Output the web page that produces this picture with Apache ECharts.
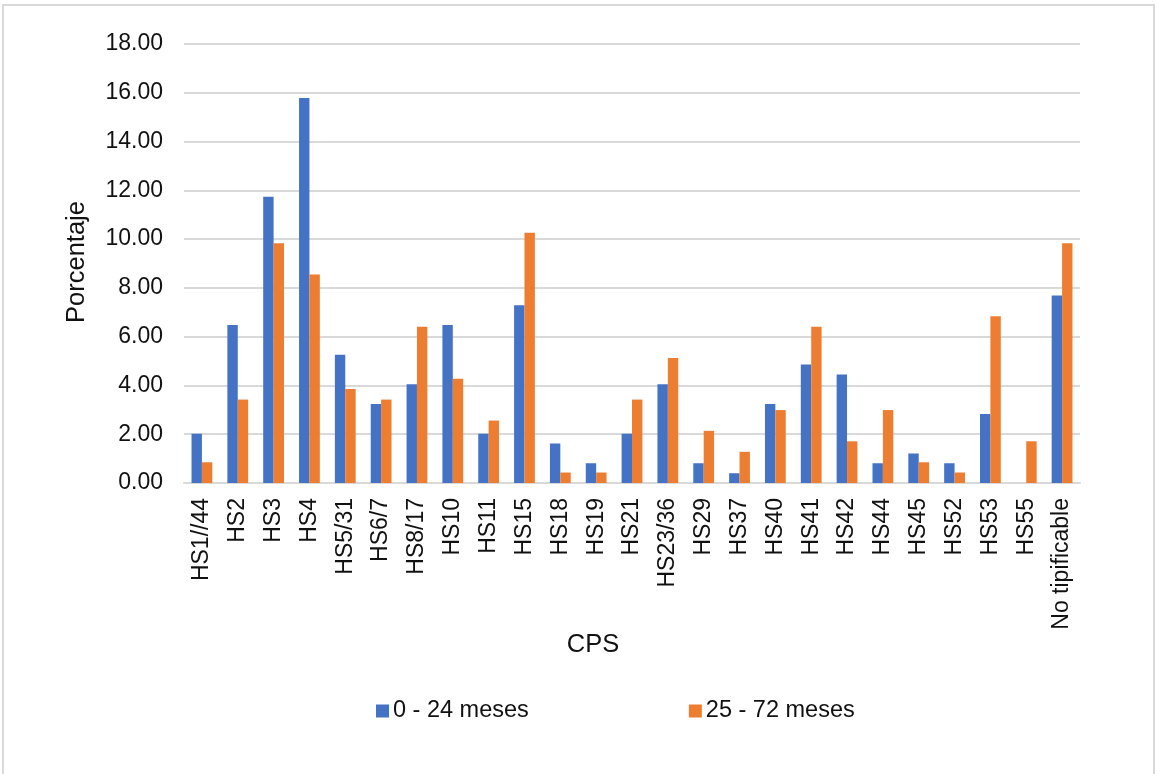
<!DOCTYPE html>
<html>
<head>
<meta charset="utf-8">
<script src="https://cdn.jsdelivr.net/npm/echarts@6/dist/echarts.min.js"></script>
<style>
html,body{margin:0;padding:0;background:#fff;}
#chart{width:1156px;height:774px;}
</style>
</head>
<body>
<div id="chart"></div>
<script>
const categories = ["HS1//44","HS2","HS3","HS4","HS5/31","HS6/7","HS8/17","HS10","HS11","HS15","HS18","HS19","HS21","HS23/36","HS29","HS37","HS40","HS41","HS42","HS44","HS45","HS52","HS53","HS55","No tipificable"];
const series0to24 = [2.02,6.48,11.74,15.79,5.26,3.24,4.05,6.48,2.02,7.29,1.62,0.81,2.02,4.05,0.81,0.40,3.24,4.86,4.45,0.81,1.21,0.81,2.83,0,7.69];
const series25to72 = [0.85,3.42,9.83,8.55,3.85,3.42,6.41,4.27,2.56,10.26,0.43,0.43,3.42,5.13,2.14,1.28,2.99,6.41,1.71,2.99,0.85,0.43,6.84,1.71,9.83];
const seriesNames = ["0 - 24 meses","25 - 72 meses"];
const yTicks = {min:0, max:18, interval:2};

const font = "Liberation Sans, Arial, sans-serif";
const chart = echarts.init(document.getElementById('chart'));
chart.setOption({
  animation:false,
  backgroundColor:'#fff',
  grid:{left:184, right:76, top:44, bottom:291, containLabel:false},
  legend:{
    data:seriesNames,
    left:371, top:694,
    icon:'rect', itemWidth:13, itemHeight:13, itemGap:160,
    textStyle:{fontFamily:font, fontSize:23.5, color:'#111', padding:[0,0,0,-1]}
  },
  graphic:[
    {type:'rect', shape:{x:3,y:5,width:1151,height:800}, style:{fill:'none', stroke:'#d9d9d9', lineWidth:2}, silent:true},
    {type:'text', x:77, y:262, rotation:Math.PI/2, style:{text:'Porcentaje', fontFamily:font, fontSize:25.5, fill:'#111', textAlign:'center', textVerticalAlign:'middle'}},
    {type:'text', x:593, y:645, style:{text:'CPS', fontFamily:font, fontSize:25.5, fill:'#111', textAlign:'center', textVerticalAlign:'middle'}}
  ],
  xAxis:{
    type:'category', data:categories,
    axisTick:{show:false},
    axisLine:{lineStyle:{color:'#d9d9d9', width:2}},
    axisLabel:{rotate:90, margin:15, interval:0, fontFamily:font, fontSize:23, color:'#111'}
  },
  yAxis:{
    type:'value', min:yTicks.min, max:yTicks.max, interval:yTicks.interval,
    axisLine:{show:false}, axisTick:{show:false},
    splitLine:{lineStyle:{color:'#d9d9d9', width:2}},
    axisLabel:{margin:21, fontFamily:font, fontSize:23, color:'#111', formatter:v=>v.toFixed(2)}
  },
  series:[
    {name:seriesNames[0], type:'bar', data:series0to24, itemStyle:{color:'#4472C4'}, barGap:'0%', barCategoryGap:'42%'},
    {name:seriesNames[1], type:'bar', data:series25to72, itemStyle:{color:'#ED7D31'}, barGap:'0%', barCategoryGap:'42%'}
  ]
});
</script>
</body>
</html>
